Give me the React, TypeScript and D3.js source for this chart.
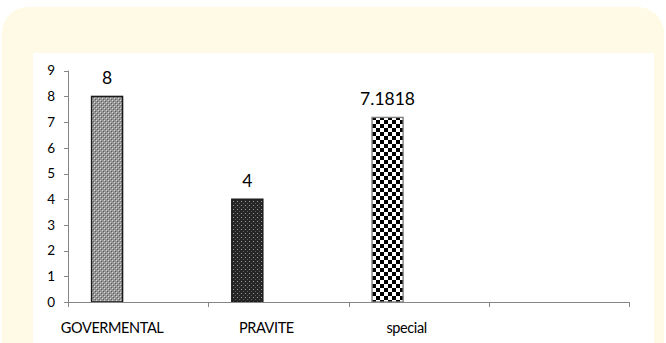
import React from "react";
import * as d3 from "d3";

const categories = ["GOVERMENTAL", "PRAVITE", "special", ""];
const values = [8, 4, 7.1818];
const valueLabels = ["8", "4", "7.1818"];
const yTicks = [0, 1, 2, 3, 4, 5, 6, 7, 8, 9];
const seriesSlots = ["s1", "s2", "s3"];
const patternIds = ["pGray", "pDots", "pCheck"];
const borderColors = ["#1a1a1a", "#1a1a1a", "#7f7f7f"];
const labelOffsets = [-26, -12, -12, 0];

const W = 666;
const H = 343;

export default function App() {
  const x = d3.scaleBand<string>().domain(categories).range([68, 629]).padding(0);
  const slot = d3
    .scaleBand<string>()
    .domain(seriesSlots)
    .range([0, x.bandwidth()])
    .paddingInner(0)
    .paddingOuter(0.758);
  const y = d3.scaleLinear().domain([0, 9]).range([302, 70.7]);
  const font = "Lato, sans-serif";

  return (
    <svg
      width={W}
      height={H}
      style={{ position: "fixed", left: 0, top: 0, display: "block" }}
      fontFamily={font}
    >
      <defs>
        <pattern id="pGray" width="4" height="4" patternUnits="userSpaceOnUse">
          <rect width="4" height="4" fill="#959595" />
          <rect x="0" y="0" width="1" height="1" fill="#d8d8d8" />
          <rect x="2" y="2" width="1" height="1" fill="#d8d8d8" />
          <rect x="1" y="1" width="1" height="1" fill="#5e5e5e" />
          <rect x="3" y="3" width="1" height="1" fill="#5e5e5e" />
        </pattern>
        <pattern id="pDots" width="4" height="4" patternUnits="userSpaceOnUse">
          <rect width="4" height="4" fill="#262626" />
          <rect x="1" y="1" width="1" height="1" fill="#9a9a9a" />
          <rect x="3" y="3" width="1" height="1" fill="#5a5a5a" />
        </pattern>
        <pattern id="pCheck" width="8" height="8" patternUnits="userSpaceOnUse">
          <rect width="8" height="8" fill="#ffffff" />
          <rect x="0" y="0" width="4" height="4" fill="#000000" />
          <rect x="4" y="4" width="4" height="4" fill="#000000" />
        </pattern>
      </defs>

      <rect x={0} y={0} width={W} height={H} fill="#ffffff" />
      <rect x={2} y={7} width={662} height={380} rx={26} fill="#fffae6" />
      <rect x={33} y={53} width={621} height={300} fill="#ffffff" />

      {/* bars */}
      {values.map((v, i) => {
        const bx = (x(categories[i]) as number) + (slot("s1") as number);
        return (
          <g key={i}>
            <rect
              x={bx}
              y={y(v)}
              width={slot.bandwidth()}
              height={y(0) - y(v)}
              fill={`url(#${patternIds[i]})`}
              stroke={borderColors[i]}
              strokeWidth={1.4}
            />
            <text
              x={bx + slot.bandwidth() / 2}
              y={y(v) - 12}
              textAnchor="middle"
              fontSize={17.5}
              fill="#000"
            >
              {valueLabels[i]}
            </text>
          </g>
        );
      })}

      {/* y axis */}
      <line x1={68.5} x2={68.5} y1={y(9)} y2={y(0)} stroke="#868686" strokeWidth={1} />
      {yTicks.map((t) => (
        <g key={t}>
          <line x1={64} x2={68.5} y1={Math.round(y(t)) + 0.5} y2={Math.round(y(t)) + 0.5} stroke="#868686" />
          <text
            x={55}
            y={y(t)}
            dy="0.35em"
            textAnchor="end"
            fontSize={13.5}
            fill="#000"
          >
            {t}
          </text>
        </g>
      ))}

      {/* x axis */}
      <line x1={68} x2={629} y1={Math.round(y(0)) + 0.5} y2={Math.round(y(0)) + 0.5} stroke="#868686" />
      {[...categories.map((c) => x(c) as number), 629].map((px, i) => (
        <line
          key={i}
          x1={Math.round(px) + 0.5}
          x2={Math.round(px) + 0.5}
          y1={y(0)}
          y2={y(0) + 5}
          stroke="#868686"
        />
      ))}
      {categories.map((c, i) => (
        <text
          key={c + i}
          x={(x(c) as number) + x.bandwidth() / 2 + labelOffsets[i]}
          y={333}
          textAnchor="middle"
          fontSize={14.5}
          letterSpacing={-0.4}
          fill="#000"
        >
          {c}
        </text>
      ))}
    </svg>
  );
}
